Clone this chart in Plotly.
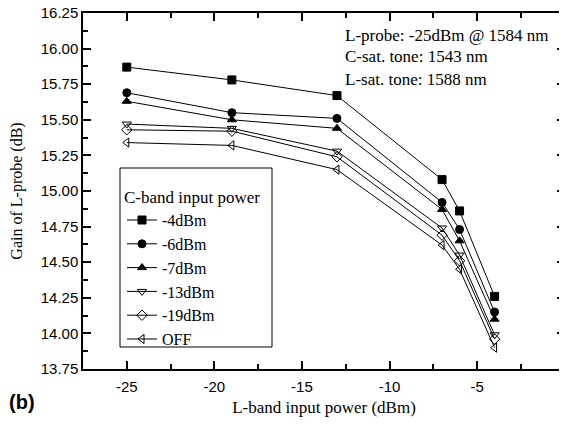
import plotly.graph_objects as go

x_vals = [-25, -19, -13, -7, -6, -4]
series_names = ["-4dBm", "-6dBm", "-7dBm", "-13dBm", "-19dBm", "OFF"]
gain_m4 = [15.87, 15.78, 15.67, 15.08, 14.86, 14.26]
gain_m6 = [15.69, 15.55, 15.51, 14.92, 14.73, 14.15]
gain_m7 = [15.63, 15.50, 15.44, 14.87, 14.65, 14.10]
gain_m13 = [15.47, 15.44, 15.28, 14.74, 14.55, 13.99]
gain_m19 = [15.43, 15.42, 15.24, 14.69, 14.51, 13.96]
gain_off = [15.34, 15.32, 15.15, 14.62, 14.45, 13.90]
symbols = ["square", "circle", "triangle-up", "triangle-down-open", "diamond-open", "triangle-left-open"]

x_ticks = [-25, -20, -15, -10, -5, 0]
x_ticklabels = ["-25", "-20", "-15", "-10", "-5", "0"]
y_ticks = [13.75, 14.00, 14.25, 14.50, 14.75, 15.00, 15.25, 15.50, 15.75, 16.00, 16.25]
y_ticklabels = ["13.75", "14.00", "14.25", "14.50", "14.75", "15.00", "15.25", "15.50", "15.75", "16.00", "16.25"]

all_series = [gain_m4, gain_m6, gain_m7, gain_m13, gain_m19, gain_off]

serif = "Liberation Serif"
sans = "Liberation Sans"

OFF = 8  # page body margin
L, T, W, H = 75, 5, 482, 356
FW, FH = 567, 424


def px(xs):
    return (xs - OFF - L) / W


def py(ys):
    return 1 - (ys - OFF - T) / H


fig = go.Figure()
for name, ys, sym in zip(series_names, all_series, symbols):
    fig.add_trace(go.Scatter(
        x=x_vals, y=ys, name=name, mode="lines+markers",
        line=dict(color="black", width=1),
        marker=dict(symbol=sym, size=8, color="black", line=dict(color="black", width=1)),
    ))

axis_common = dict(
    showline=True, linecolor="black", linewidth=1.5, mirror="allticks",
    ticks="inside", ticklen=8, tickwidth=1.5, tickcolor="black",
    showgrid=False, zeroline=False, automargin=False,
    ticklabeloverflow="allow",
    tickfont=dict(family=sans, size=15, color="black"),
)

fig.update_xaxes(
    range=[-27.5, 0.02], tickmode="array", tickvals=x_ticks, ticktext=x_ticklabels,
    ticklabelstandoff=3,
    minor=dict(dtick=2.5, tick0=0, ticks="inside", ticklen=5, tickcolor="black", tickwidth=1.5),
    title=dict(text="L-band input power (dBm)", font=dict(family=serif, size=17, color="black"), standoff=7),
    **axis_common,
)
fig.update_yaxes(
    range=[13.75, 16.25], tickmode="array", tickvals=y_ticks, ticktext=y_ticklabels,
    minor=dict(dtick=0.125, tick0=13.75, ticks="inside", ticklen=5, tickcolor="black", tickwidth=1.5),
    title=dict(text="Gain of L-probe (dB)", font=dict(family=serif, size=16, color="black"), standoff=20),
    **axis_common,
)

ann_lines = ["L-probe: -25dBm @ 1584 nm", "C-sat. tone: 1543 nm", "L-sat. tone: 1588 nm"]
for i, t in enumerate(ann_lines):
    fig.add_annotation(
        text=t, xref="paper", yref="paper", x=px(343), y=py(35 + 22 * i),
        xanchor="left", yanchor="middle", showarrow=False,
        font=dict(family=serif, size=17, color="black"),
    )

fig.add_annotation(
    text="<b>(b)</b>", xref="paper", yref="paper", x=px(7), y=py(402),
    xanchor="left", yanchor="middle", showarrow=False,
    font=dict(family=sans, size=20, color="black"),
)

# legend frame
fig.add_shape(
    type="rect", xref="paper", yref="paper",
    x0=px(120), x1=px(272), y0=py(347), y1=py(168),
    line=dict(color="black", width=1), fillcolor="white", layer="above",
)

fig.update_layout(
    width=FW, height=FH,
    margin=dict(l=L, r=FW - L - W, t=T, b=FH - T - H),
    paper_bgcolor="white", plot_bgcolor="white",
    legend=dict(
        title=dict(text="C-band input power", font=dict(family=serif, size=17, color="black")),
        font=dict(family=serif, size=16, color="black"),
        x=px(122), y=py(181), xanchor="left", yanchor="top",
        borderwidth=0, bgcolor="rgba(0,0,0,0)",
        itemwidth=30, tracegroupgap=0,
    ),
)

fig.write_html("out.html")
